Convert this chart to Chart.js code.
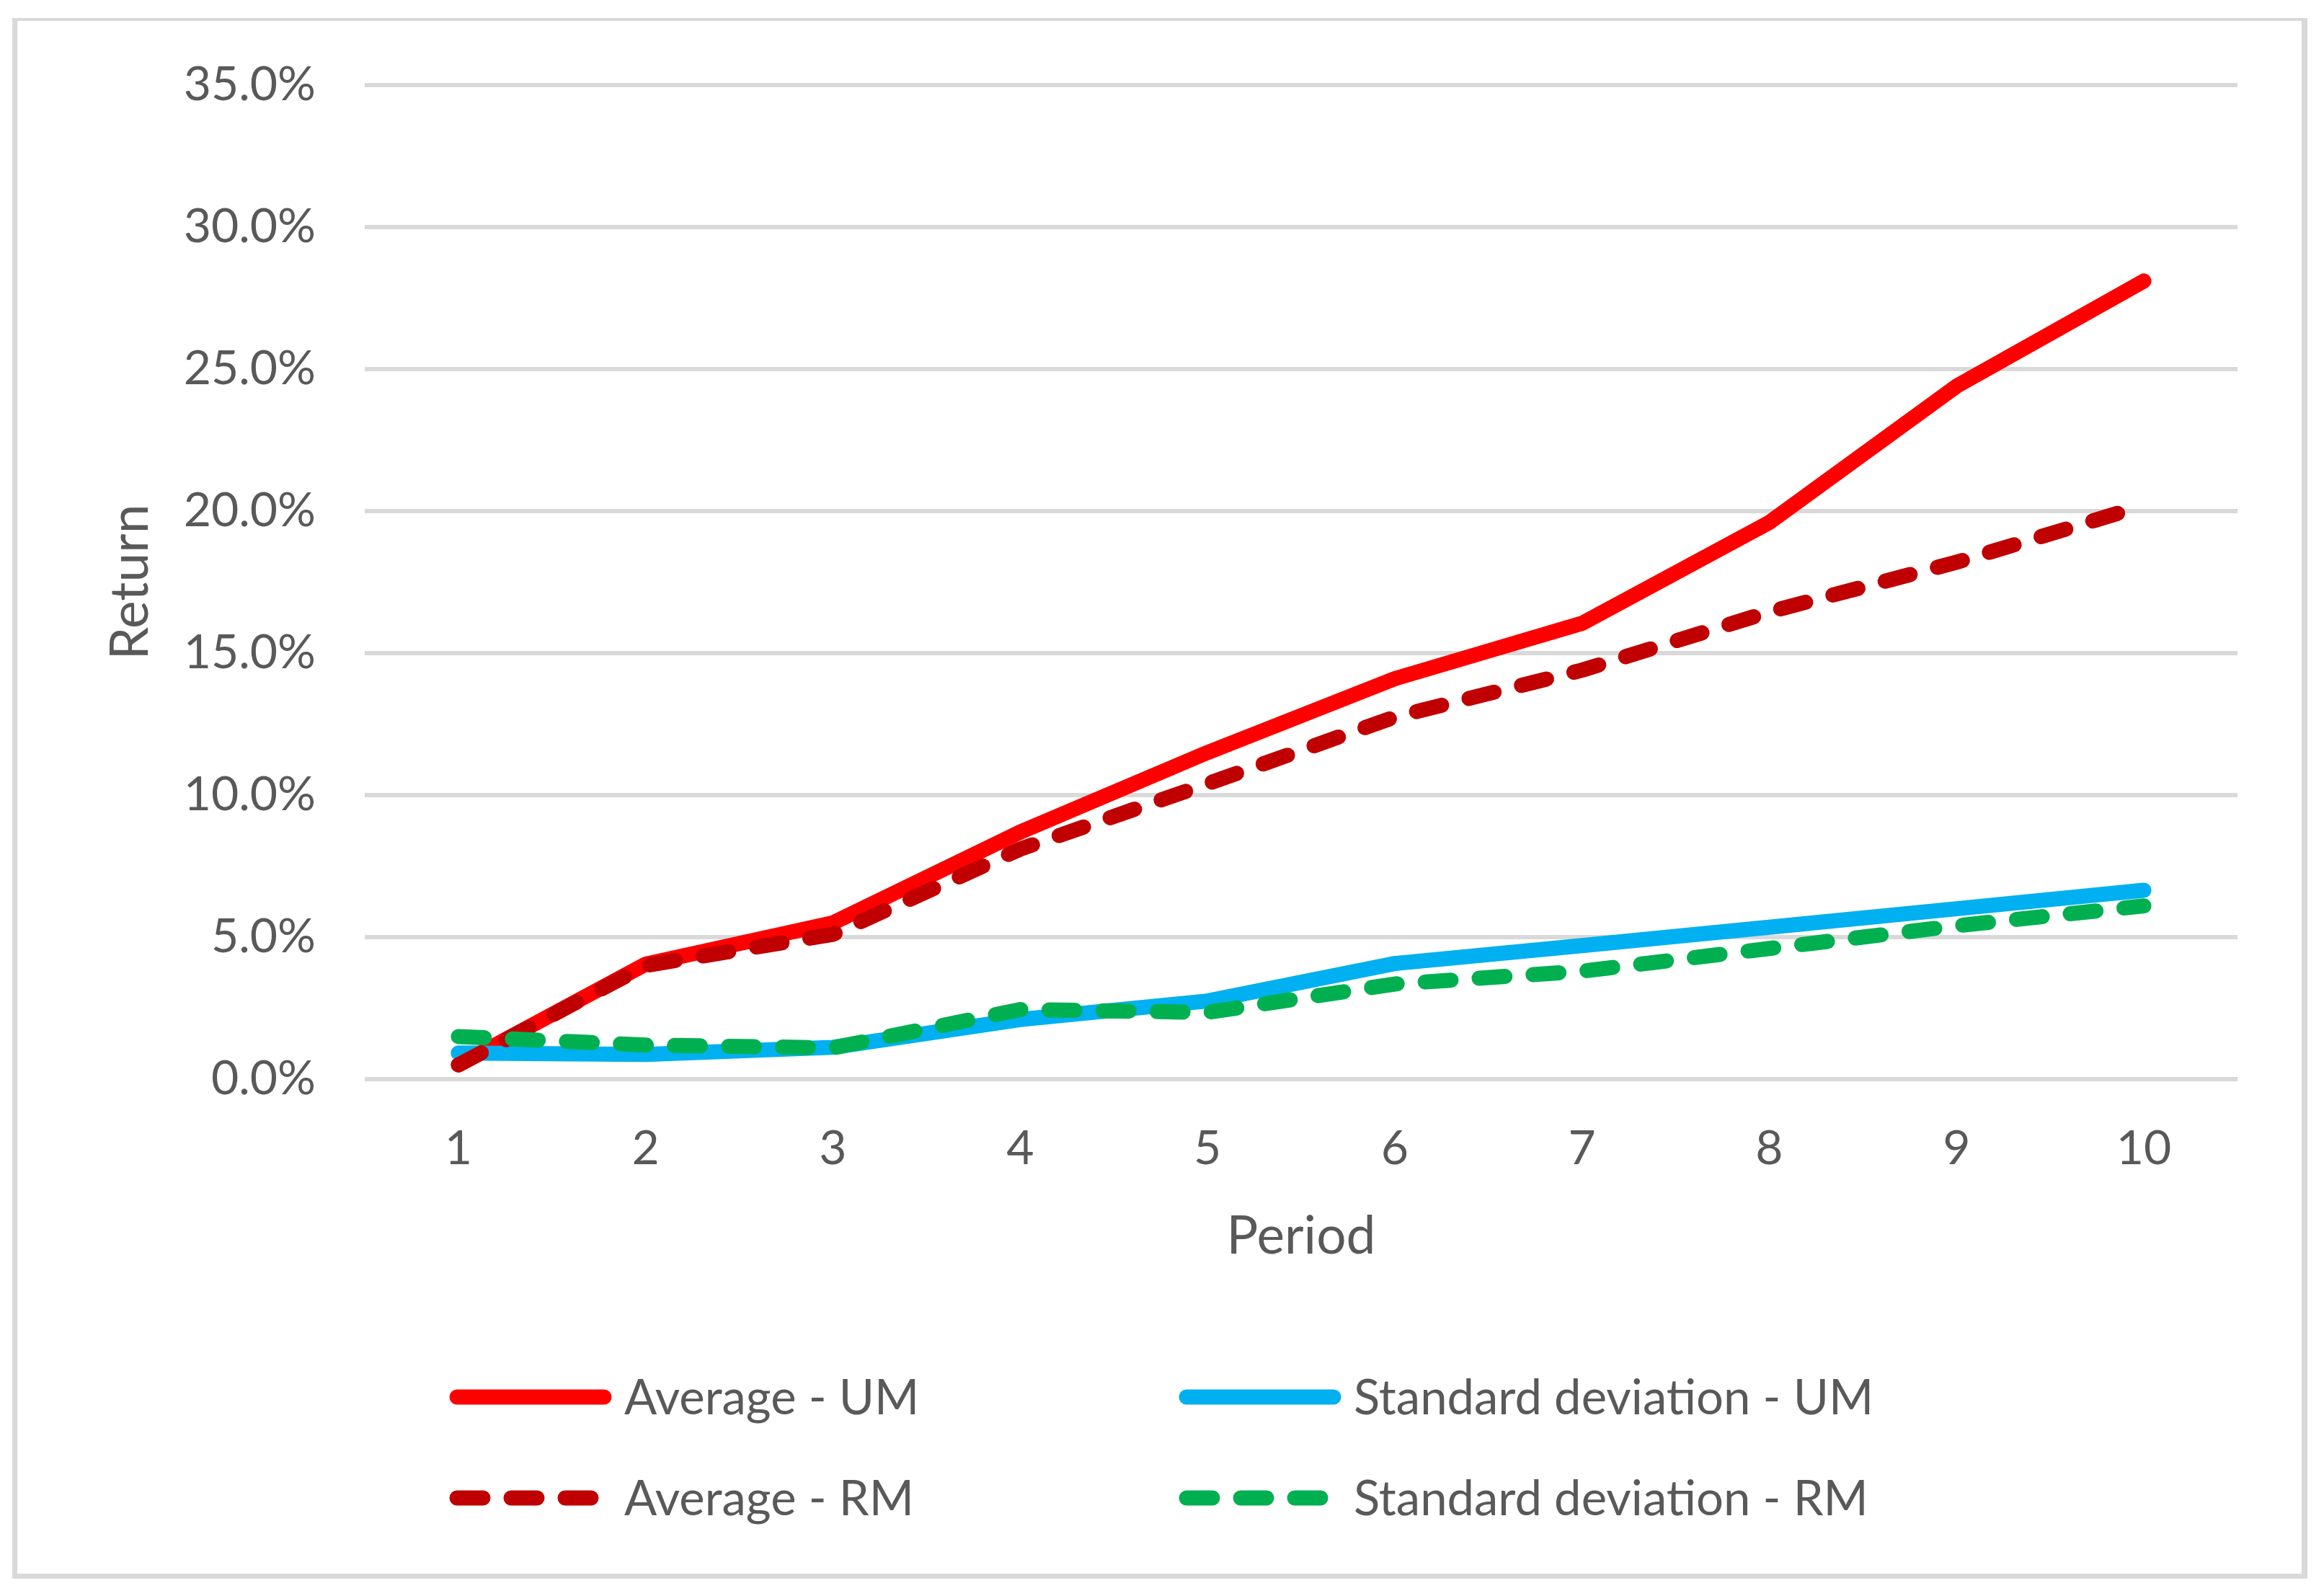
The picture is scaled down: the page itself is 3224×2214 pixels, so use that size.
<!DOCTYPE html>
<html>
<head>
<meta charset="utf-8">
<script src="https://cdn.jsdelivr.net/npm/chart.js@4"></script>
<style>
  html, body { margin: 0; padding: 0; background: #ffffff; }
  #wrap { position: absolute; left: 0; top: 0; width: 3224px; height: 2214px; }
  #frame { position: absolute; left: 17px; top: 25px; width: 3169px; height: 2154px; border-style: solid; border-color: #d9d9d9; border-width: 4px 8px 7px 7px; }
  canvas { position: absolute; left: 0; top: 0; }
</style>
</head>
<body>
<div id="wrap">
  <div id="frame"></div>
  <canvas id="chartReturn" width="3224" height="2214"></canvas>
</div>
<script>
  // values, in percent
  const periods = ['1', '2', '3', '4', '5', '6', '7', '8', '9', '10'];
  const averageUM = [0.5, 4.05, 5.5, 8.7, 11.5, 14.1, 16.05, 19.6, 24.4, 28.1];
  const averageRM = [0.5, 4.0, 5.1, 8.1, 10.4, 12.75, 14.4, 16.45, 18.2, 20.2];
  const stdevUM = [0.92, 0.87, 1.12, 2.1, 2.75, 4.07, 4.7, 5.35, 6.0, 6.65];
  const stdevRM = [1.5, 1.2, 1.1, 2.45, 2.35, 3.35, 3.8, 4.6, 5.4, 6.1];
  const seriesNames = ['Average - UM', 'Standard deviation - UM', 'Average - RM', 'Standard deviation - RM'];

  const textColor = '#595959';
  const fontFamily = 'Lato, "Open Sans", sans-serif';
  const lineW = 21;
  const dash = [36, 39];

  function lineSet(label, data, color, dashed, order) {
    return {
      label,
      data,
      borderColor: color,
      backgroundColor: color,
      borderWidth: lineW,
      borderDash: dashed ? dash : [],
      borderCapStyle: 'round',
      borderJoinStyle: 'round',
      pointRadius: 0,
      tension: 0,
      fill: false,
      order
    };
  }

  // legend laid out 2x2 like the original
  const gridLegend = {
    id: 'gridLegend',
    afterDraw(chart) {
      const ctx = chart.ctx;
      const cols = [634, 1646];
      const rows = [1938, 2078];
      chart.data.datasets.forEach((ds, i) => {
        const x = cols[i % 2];
        const y = rows[Math.floor(i / 2)];
        ctx.save();
        ctx.strokeStyle = ds.borderColor;
        ctx.lineWidth = lineW;
        ctx.lineCap = 'round';
        ctx.setLineDash(ds.borderDash);
        ctx.beginPath();
        ctx.moveTo(x, y);
        ctx.lineTo(x + 204, y);
        ctx.stroke();
        ctx.setLineDash([]);
        ctx.fillStyle = textColor;
        ctx.font = '67px ' + fontFamily;
        ctx.textBaseline = 'middle';
        ctx.fillText(ds.label, x + 232, y + 2);
        ctx.restore();
      });
    }
  };

  const ctx = document.getElementById('chartReturn').getContext('2d');
  new Chart(ctx, {
    type: 'line',
    data: {
      labels: periods,
      datasets: [
        lineSet(seriesNames[0], averageUM, '#FF0000', false, 4),
        lineSet(seriesNames[1], stdevUM, '#00B0F0', false, 3),
        lineSet(seriesNames[2], averageRM, '#C00000', true, 2),
        lineSet(seriesNames[3], stdevRM, '#00B050', true, 1)
      ]
    },
    options: {
      responsive: false,
      animation: false,
      devicePixelRatio: 1,
      layout: { padding: { left: 120, top: 118, right: 120, bottom: 454 } },
      plugins: {
        legend: { display: false },
        tooltip: { enabled: false }
      },
      scales: {
        x: {
          offset: true,
          grid: { display: false, drawTicks: false },
          border: { display: false },
          ticks: { color: textColor, font: { family: fontFamily, size: 66 }, padding: 57 },
          title: {
            display: true,
            text: 'Period',
            color: textColor,
            font: { family: fontFamily, size: 73 },
            padding: { top: 0, bottom: 1 }
          },
          afterFit: s => { s.height = 263; }
        },
        y: {
          min: 0,
          max: 35,
          grid: { color: '#d9d9d9', lineWidth: 6, drawTicks: false },
          border: { display: false },
          ticks: {
            stepSize: 5,
            color: textColor,
            font: { family: fontFamily, size: 66 },
            padding: 68,
            callback: v => v.toFixed(1) + '%'
          },
          title: {
            display: true,
            text: 'Return',
            color: textColor,
            font: { family: fontFamily, size: 73 },
            padding: { top: 18, bottom: 0 }
          },
          afterFit: s => { s.width = 386; }
        }
      }
    },
    plugins: [gridLegend]
  });
</script>
</body>
</html>
